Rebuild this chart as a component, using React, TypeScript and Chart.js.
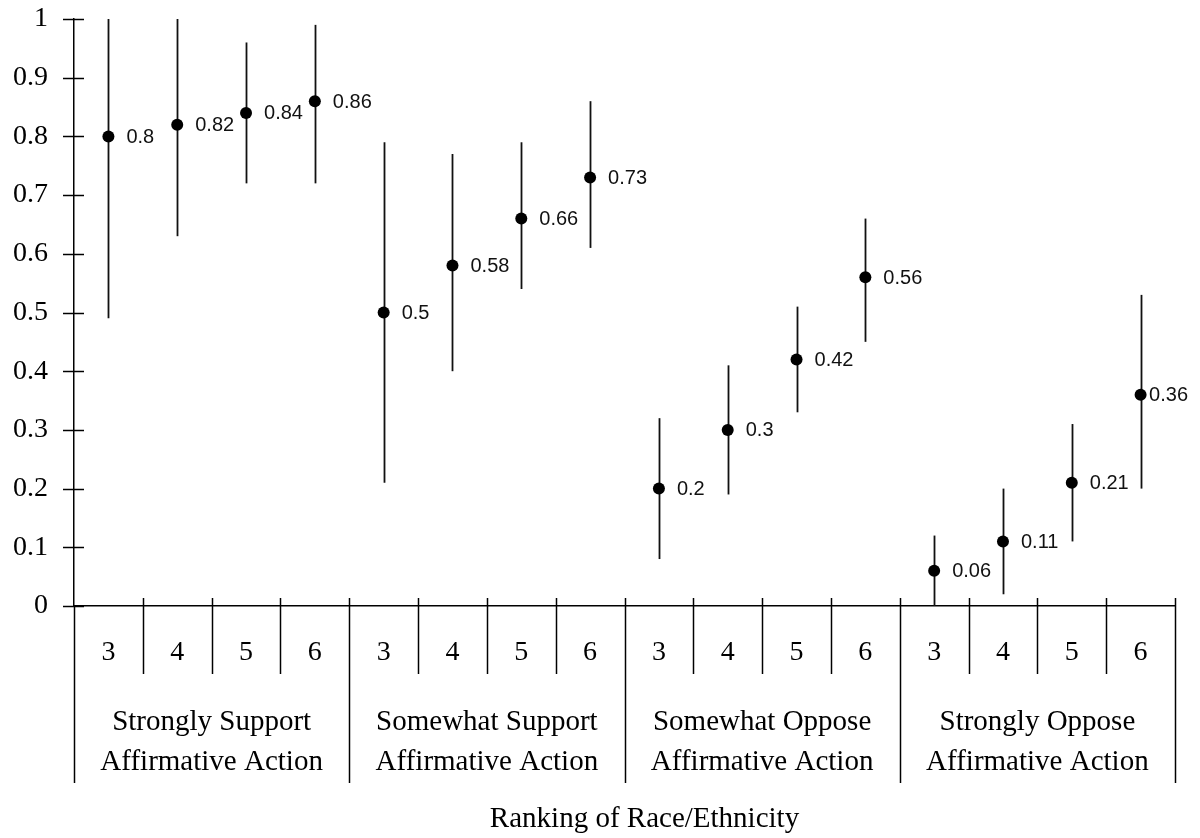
import React, { useEffect, useRef } from "react";
import { Chart, registerables } from "chart.js";

Chart.register(...registerables);

// Ranking of race/ethnicity within each attitude group
const ranks = ["3", "4", "5", "6"];
const groups = [
  ["Strongly Support", "Affirmative Action"],
  ["Somewhat Support", "Affirmative Action"],
  ["Somewhat Oppose", "Affirmative Action"],
  ["Strongly Oppose", "Affirmative Action"],
];
const axisTitle = "Ranking of Race/Ethnicity";

// Predicted probabilities with their confidence bounds
const means = [0.8, 0.82, 0.84, 0.86, 0.5, 0.58, 0.66, 0.73, 0.2, 0.3, 0.42, 0.56, 0.06, 0.11, 0.21, 0.36];
const upper = [1.0, 1.0, 0.96, 0.99, 0.79, 0.77, 0.79, 0.86, 0.32, 0.41, 0.51, 0.66, 0.12, 0.2, 0.31, 0.53];
const lower = [0.49, 0.63, 0.72, 0.72, 0.21, 0.4, 0.54, 0.61, 0.08, 0.19, 0.33, 0.45, 0.0, 0.02, 0.11, 0.2];

const yTicks = [0, 0.1, 0.2, 0.3, 0.4, 0.5, 0.6, 0.7, 0.8, 0.9, 1];

const SERIF = '"Liberation Serif", "Times New Roman", serif';
const SANS = '"Liberation Sans", Arial, sans-serif';
const INK = "#000";

const errorBarsAndTable = {
  id: "errorBarsAndTable",
  beforeDatasetsDraw(chart: any) {
    const { ctx, scales } = chart;
    const x = scales.x;
    const y = scales.y;
    ctx.save();
    ctx.strokeStyle = "#111";
    ctx.lineWidth = 1.8;
    means.forEach((_, i) => {
      const px = Math.round(x.getPixelForValue(i + 0.5)) + 0.5;
      ctx.beginPath();
      ctx.moveTo(px, y.getPixelForValue(upper[i]));
      ctx.lineTo(px, y.getPixelForValue(lower[i]));
      ctx.stroke();
    });
    ctx.restore();
  },
  afterDraw(chart: any) {
    const { ctx, scales, chartArea, width } = chart;
    const x = scales.x;
    const y = scales.y;
    const base = chartArea.bottom;
    const slots = ranks.length * groups.length;
    const rankRowBottom = base + 68;
    const tableBottom = base + 177;

    ctx.save();
    ctx.strokeStyle = INK;
    ctx.lineWidth = 1.5;

    // y tick marks crossing the axis
    yTicks.forEach((t) => {
      const py = Math.round(y.getPixelForValue(t)) + 0.5;
      ctx.beginPath();
      ctx.moveTo(chartArea.left - 11, py);
      ctx.lineTo(chartArea.left + 10, py);
      ctx.stroke();
    });

    // category separators: short ticks above the axis, dividers below it
    for (let i = 0; i <= slots; i++) {
      const px = Math.round(x.getPixelForValue(i)) + 0.5;
      const isGroupEdge = i % ranks.length === 0;
      ctx.beginPath();
      ctx.moveTo(px, i === 0 ? base : base - 8);
      ctx.lineTo(px, isGroupEdge ? tableBottom : rankRowBottom);
      ctx.stroke();
    }

    ctx.fillStyle = INK;
    ctx.textAlign = "center";
    ctx.textBaseline = "middle";

    // rank labels
    ctx.font = `28px ${SERIF}`;
    for (let i = 0; i < slots; i++) {
      ctx.fillText(ranks[i % ranks.length], x.getPixelForValue(i + 0.5), base + 47);
    }

    // group labels
    ctx.font = `29px ${SERIF}`;
    groups.forEach((lines, g) => {
      const cx = x.getPixelForValue(g * ranks.length + ranks.length / 2);
      lines.forEach((line, k) => ctx.fillText(line, cx, base + 116 + k * 40));
    });

    // axis title
    ctx.font = `29px ${SERIF}`;
    ctx.fillText(axisTitle, (chartArea.left + chartArea.right) / 2 + 20, base + 213);

    // value labels beside each point
    ctx.font = `20px ${SANS}`;
    ctx.textAlign = "left";
    ctx.fillStyle = "#111";
    means.forEach((v, i) => {
      const text = String(v);
      const px = x.getPixelForValue(i + 0.5);
      const w = ctx.measureText(text).width;
      const tx = Math.min(px + 18, width - 12 - w);
      ctx.fillText(text, tx, y.getPixelForValue(v) + 1);
    });
    ctx.restore();
  },
};

export default function App() {
  const canvasRef = useRef<HTMLCanvasElement | null>(null);

  useEffect(() => {
    const canvas = canvasRef.current;
    if (!canvas) return;
    const chart = new Chart(canvas, {
      type: "scatter",
      data: {
        datasets: [
          {
            data: means.map((v, i) => ({ x: i + 0.5, y: v })),
            pointRadius: 6,
            pointHoverRadius: 6,
            pointBorderWidth: 0,
            backgroundColor: "#000",
            borderColor: "#000",
            showLine: false,
          },
        ],
      },
      plugins: [errorBarsAndTable],
      options: {
        animation: false,
        responsive: false,
        devicePixelRatio: 1,
        layout: { padding: { left: 0, right: 25, top: 19, bottom: 0 } },
        plugins: { legend: { display: false }, tooltip: { enabled: false } },
        scales: {
          x: {
            type: "linear",
            min: 0,
            max: ranks.length * groups.length,
            grid: { display: false, drawTicks: false },
            ticks: { display: false },
            border: { display: true, color: INK, width: 1.5 },
            afterFit: (s: any) => {
              s.height = 232;
              s.paddingLeft = 0;
              s.paddingRight = 0;
            },
          },
          y: {
            min: 0,
            max: 1,
            afterBuildTicks: (s: any) => {
              s.ticks = yTicks.map((value) => ({ value }));
            },
            grid: { display: false, drawTicks: false },
            border: { display: true, color: INK, width: 1.5 },
            ticks: {
              color: INK,
              padding: 26,
              font: { family: SERIF, size: 28 },
              callback: (v: any) => String(Number(Number(v).toFixed(1))),
            },
            afterFit: (s: any) => {
              s.width = 74;
              s.paddingTop = 0;
              s.paddingBottom = 0;
            },
          },
        },
      },
    });
    return () => chart.destroy();
  }, []);

  return (
    <div style={{ position: "fixed", left: 0, top: 0, width: 1200, height: 838, background: "#fff" }}>
      <canvas ref={canvasRef} width={1200} height={838} />
    </div>
  );
}
